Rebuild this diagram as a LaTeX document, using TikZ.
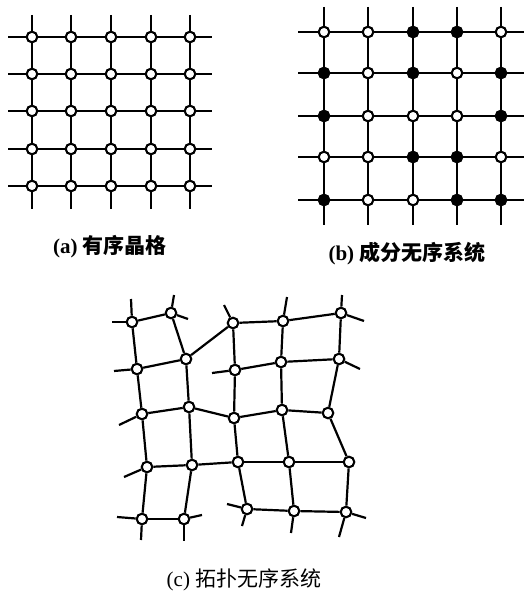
\documentclass[tikz,border=0pt]{standalone}
\usepackage{fontspec}
\setmainfont{Liberation Serif}
\newfontfamily\cjk{Noto Sans CJK SC}
\newcommand\mybrow[7]{%
  \node[#3] (b1#1) at (324,#2) {};
  \node[#4] (b2#1) at (368,#2) {};
  \node[#5] (b3#1) at (413,#2) {};
  \node[#6] (b4#1) at (457,#2) {};
  \node[#7] (b5#1) at (501,#2) {};}
\begin{document}
\begin{tikzpicture}[x=1pt,y=-1pt,line width=2.2pt,
  opn/.style={circle,draw,fill=white,inner sep=0pt,minimum size=10.6pt,line width=2.1pt},
  fil/.style={opn,fill=black},
  lbl/.style={font=\fontsize{21}{24}\selectfont,inner sep=0pt}]
\useasboundingbox (0,0) rectangle (524,591);

% ---------- (a) ordered lattice ----------
\foreach \x [count=\i] in {32,71,111,151,190}
  \foreach \y [count=\j] in {37,74,111,149,186}
    \node[opn] (a\i\j) at (\x,\y) {};
\foreach \i in {1,...,5}{
  \foreach \j in {1,...,4}{
    \pgfmathtruncatemacro\k{\j+1}
    \draw (a\i\j) -- (a\i\k);
    \draw (a\j\i) -- (a\k\i);
  }}
\foreach \y [count=\j] in {37,74,111,149,186}{
  \coordinate (aL\j) at (8,\y);
  \coordinate (aR\j) at (212,\y);
  \draw (aL\j) -- (a1\j);
  \draw (a5\j) -- (aR\j);}
\foreach \x [count=\i] in {32,71,111,151,190}{
  \coordinate (aT\i) at (\x,15);
  \coordinate (aB\i) at (\x,209);
  \draw (aT\i) -- (a\i1);
  \draw (a\i5) -- (aB\i);}
\node[lbl] (la) at (110,247) {\textbf{(a)} {\cjk\bfseries 有序晶格}};

% ---------- (b) compositional disorder ----------
\mybrow{1}{32}{opn}{opn}{fil}{fil}{opn}
\mybrow{2}{73}{fil}{opn}{fil}{opn}{fil}
\mybrow{3}{116}{fil}{opn}{opn}{opn}{fil}
\mybrow{4}{157}{opn}{opn}{fil}{fil}{opn}
\mybrow{5}{200}{fil}{opn}{opn}{fil}{fil}
\foreach \i in {1,...,5}{
  \foreach \j in {1,...,4}{
    \pgfmathtruncatemacro\k{\j+1}
    \draw (b\i\j) -- (b\i\k);
    \draw (b\j\i) -- (b\k\i);
  }}
\foreach \y [count=\j] in {32,73,116,157,200}{
  \coordinate (bL\j) at (298,\y);
  \coordinate (bR\j) at (524,\y);
  \draw (bL\j) -- (b1\j);
  \draw (b5\j) -- (bR\j);}
\foreach \x [count=\i] in {324,368,413,457,501}{
  \coordinate (bT\i) at (\x,7);
  \coordinate (bB\i) at (\x,225);
  \draw (bT\i) -- (b\i1);
  \draw (b\i5) -- (bB\i);}
\node[lbl] (lb) at (407,254) {\textbf{(b)} {\cjk\bfseries 成分无序系统}};

% ---------- (c) topological disorder ----------
\node[opn] (cA) at (132,322) {};
\node[opn] (cB) at (171,313) {};
\node[opn] (cC) at (186,359) {};
\node[opn] (cD) at (233,323) {};
\node[opn] (cE) at (137,369) {};
\node[opn] (cF) at (235,370) {};
\node[opn] (cG) at (142,414) {};
\node[opn] (cH) at (189,407) {};
\node[opn] (cI) at (234,418) {};
\node[opn] (cJ) at (283,321) {};
\node[opn] (cK) at (341,313) {};
\node[opn] (cL) at (281,362) {};
\node[opn] (cM) at (339,359) {};
\node[opn] (cN) at (282,410) {};
\node[opn] (cO) at (328,413) {};
\node[opn] (cP) at (147,467) {};
\node[opn] (cQ) at (192,465) {};
\node[opn] (cR) at (238,462) {};
\node[opn] (cS) at (289,462) {};
\node[opn] (cT) at (349,462) {};
\node[opn] (cU) at (142,519) {};
\node[opn] (cV) at (184,519) {};
\node[opn] (cW) at (247,509) {};
\node[opn] (cX) at (294,511) {};
\node[opn] (cY) at (346,512) {};
\foreach \p/\q in {A/B,A/E,B/C,C/D,C/E,C/H,E/G,G/H,H/I,D/F,F/I,D/J,J/K,J/L,F/L,L/M,K/M,L/N,I/N,N/O,M/O,G/P,H/Q,P/Q,Q/R,I/R,R/S,N/S,S/T,O/T,P/U,Q/V,U/V,R/W,S/X,T/Y,W/X,X/Y}
  \draw (c\p) -- (c\q);
% free ends
\foreach \n/\x/\y [count=\m] in {A/112/322,A/131/299,B/174/295,B/188/319,D/224/305,E/114/371,F/212/373,G/119/425,J/287/297,K/342/295,K/364/321,M/360/369,P/124/477,U/117/517,U/141/540,V/202/515,V/184/541,W/227/504,W/242/526,X/291/533,Y/366/518,Y/339/537}{
  \coordinate (s\m) at (\x,\y);
  \draw (c\n) -- (s\m);}
\node[lbl] (lc) at (244,580) {(c) {\cjk 拓扑无序系统}};
\end{tikzpicture}
\end{document}
